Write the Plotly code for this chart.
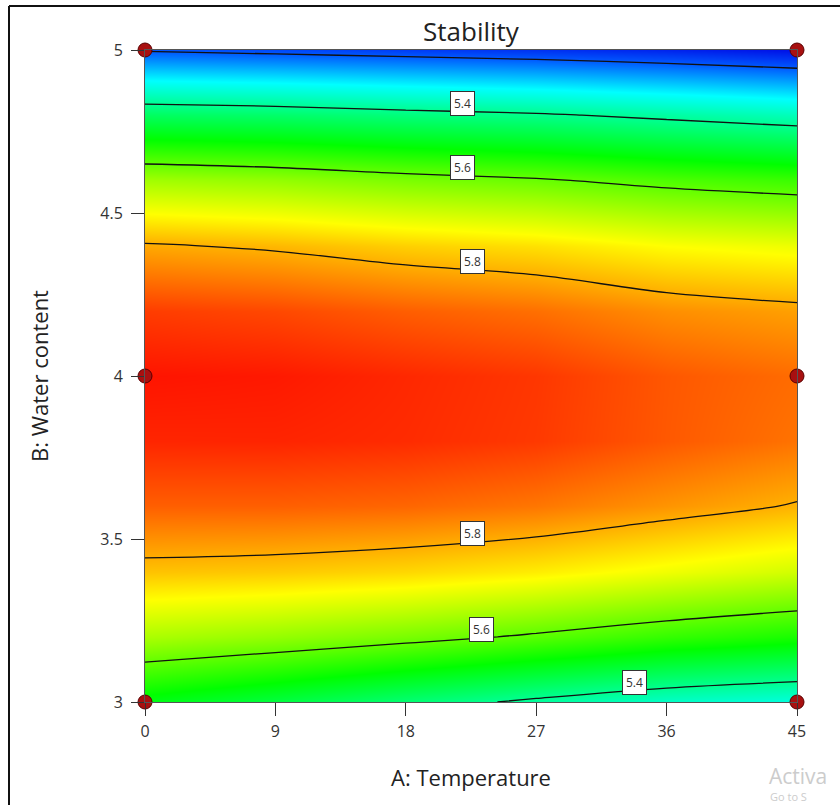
import numpy as np
import plotly.graph_objects as go

# ---- data ----
temperature = [0, 9, 18, 27, 36, 45]                      # A: Temperature
water = [3.0, 3.2, 3.4, 3.6, 3.8, 4.0, 4.2, 4.4, 4.6, 4.8, 5.0]  # B: Water content

# stability response, one row per water level, one column per temperature
stab_300 = [5.504, 5.468, 5.426, 5.389, 5.356, 5.337]
stab_320 = [5.661, 5.642, 5.619, 5.592, 5.562, 5.539]
stab_340 = [5.782, 5.776, 5.764, 5.745, 5.718, 5.692]
stab_360 = [5.868, 5.868, 5.862, 5.848, 5.822, 5.796]
stab_380 = [5.918, 5.919, 5.913, 5.901, 5.874, 5.851]
stab_400 = [5.933, 5.929, 5.916, 5.903, 5.875, 5.857]
stab_420 = [5.898, 5.888, 5.869, 5.854, 5.827, 5.812]
stab_440 = [5.805, 5.792, 5.771, 5.756, 5.730, 5.716]
stab_460 = [5.653, 5.641, 5.621, 5.606, 5.583, 5.567]
stab_480 = [5.442, 5.434, 5.419, 5.407, 5.387, 5.367]
stab_500 = [5.195, 5.185, 5.175, 5.165, 5.152, 5.135]
stability = [stab_300, stab_320, stab_340, stab_360, stab_380, stab_400,
             stab_420, stab_440, stab_460, stab_480, stab_500]

contour_levels = [5.2, 5.4, 5.6, 5.8]

design_temp = [0, 0, 0, 45, 45, 45]
design_water = [3, 4, 5, 3, 4, 5]

x_ticks = [0, 9, 18, 27, 36, 45]
y_ticks = [3, 3.5, 4, 4.5, 5]

# where along A each contour label sits: (level, branch, A)
label_at = [(5.4, "upper", 21.9), (5.6, "upper", 21.9), (5.8, "upper", 22.6),
            (5.8, "lower", 22.6), (5.6, "lower", 23.2), (5.4, "lower", 33.8)]

# ---- figure ----
Z = np.array(stability)
B = np.array(water)


def crossing(level, a, branch):
    col = np.array([np.interp(a, temperature, row) for row in Z])
    k = int(np.argmax(col))
    if branch == "upper":
        return float(np.interp(level, col[k:][::-1], B[k:][::-1]))
    return float(np.interp(level, col[:k + 1], B[:k + 1]))


zmin, zmax = 5.12, 5.95
colorscale = [[0.0, "rgb(0,0,225)"], [0.096, "rgb(0,90,255)"],
              [0.229, "rgb(0,255,255)"], [0.482, "rgb(0,255,0)"],
              [0.735, "rgb(255,255,0)"], [1.0, "rgb(255,0,0)"]]

FONT = "Open Sans"

fig = go.Figure()
fig.add_trace(go.Heatmap(x=temperature, y=water, z=stability, zsmooth="best",
                         colorscale=colorscale, zmin=zmin, zmax=zmax,
                         showscale=False, hoverinfo="skip"))
fig.add_trace(go.Contour(x=temperature, y=water, z=stability,
                         contours=dict(start=contour_levels[0], end=contour_levels[-1],
                                       size=0.2, coloring="none"),
                         line=dict(color="#111111", width=1.3, smoothing=1.0),
                         showscale=False, hoverinfo="skip"))
fig.add_trace(go.Scatter(x=design_temp, y=design_water, mode="markers",
                         marker=dict(size=14, color="#a81010",
                                     line=dict(color="#5a0000", width=1)),
                         cliponaxis=False, showlegend=False, hoverinfo="skip"))

for level, branch, a in label_at:
    fig.add_annotation(x=a, y=crossing(level, a, branch), text=f"{level:.1f}",
                       showarrow=False, bgcolor="white", bordercolor="#333333",
                       borderwidth=1, borderpad=3, yshift=8,
                       font=dict(family=FONT, size=12, color="#333333"))

W, H = 840, 805
L, R, T, Bm = 145, 43, 50, 103
pw, ph = W - L - R, H - T - Bm


def px(xp):
    return (xp - L) / pw


def py(yp):
    return (H - Bm - yp) / ph


fig.add_annotation(x=0.5, y=py(31), xref="paper", yref="paper", text="Stability",
                   showarrow=False, yanchor="middle",
                   font=dict(family=FONT, size=26, color="#222222"))
# faint OS watermark in the lower-right corner of the screenshot
fig.add_annotation(x=px(768), y=py(776), xref="paper", yref="paper", text="Activa",
                   xanchor="left", yanchor="middle", showarrow=False, borderpad=0,
                   font=dict(family=FONT, size=21, color="#cccccc"))
fig.add_annotation(x=px(769), y=py(796), xref="paper", yref="paper",
                   text="Go to S", xanchor="left", yanchor="middle", showarrow=False,
                   borderpad=0, font=dict(family=FONT, size=11, color="#cccccc"))

# outer window frame (top and left edges visible)
fig.add_shape(type="line", xref="paper", yref="paper", x0=px(9), x1=px(845),
              y0=py(6), y1=py(6), line=dict(color="#111111", width=2))
fig.add_shape(type="line", xref="paper", yref="paper", x0=px(9), x1=px(9),
              y0=py(6), y1=py(810), line=dict(color="#111111", width=2))

axis_common = dict(showgrid=False, zeroline=False, showline=True, mirror=True,
                   linecolor="#555555", linewidth=1, ticks="outside", ticklen=13,
                   tickcolor="#333333", tickwidth=1,
                   tickfont=dict(family=FONT, size=16, color="#333333"))

fig.update_layout(
    width=W, height=H, margin=dict(l=L, r=R, t=T, b=Bm),
    paper_bgcolor="white", plot_bgcolor="white", showlegend=False,
    xaxis=dict(range=[0, 45], tickvals=x_ticks, ticklabelstandoff=2,
               title=dict(text="A: Temperature", standoff=29,
                          font=dict(family=FONT, size=22, color="#222222")),
               **axis_common),
    yaxis=dict(range=[3, 5], tickvals=y_ticks, ticklabelstandoff=5,
               title=dict(text="B: Water content", standoff=45,
                          font=dict(family=FONT, size=22, color="#222222")),
               **axis_common),
)

fig.write_html("out.html")
